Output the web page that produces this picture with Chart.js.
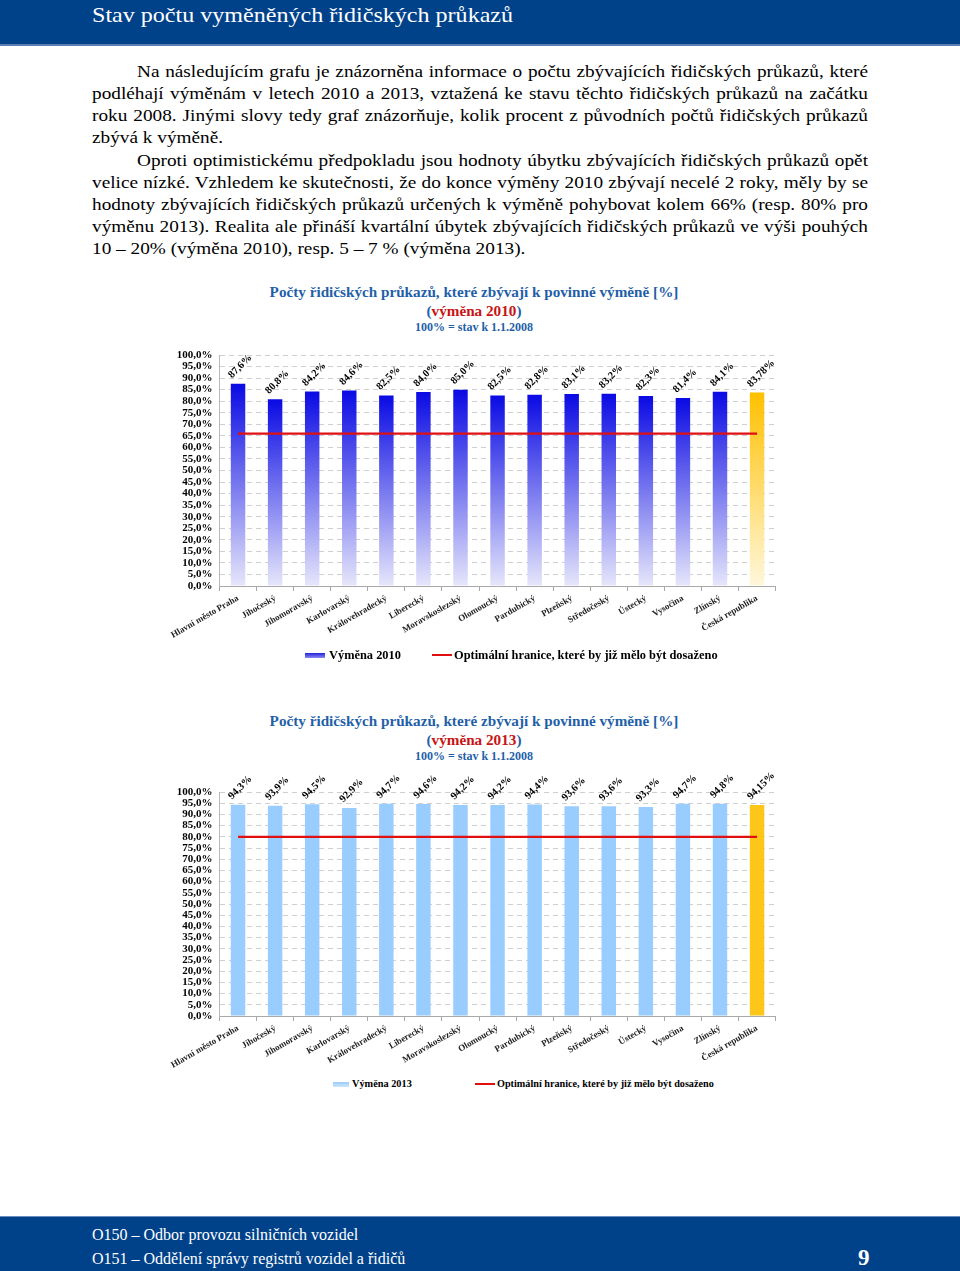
<!DOCTYPE html>
<html lang="cs">
<head>
<meta charset="utf-8">
<script src="https://cdn.jsdelivr.net/npm/chart.js@4.4.0/dist/chart.umd.min.js"></script>
<style>
  html, body { margin:0; padding:0; background:#fff; }
  body { width:960px; height:1271px; position:relative; overflow:hidden; font-family:"Liberation Serif","Times New Roman",serif; }
  #header { position:absolute; left:0; top:0; width:960px; height:44px; background:#00428A; border-bottom:2px solid #5A7DB3; }
  #header h1 { margin:0; position:absolute; left:92px; top:1px; font-size:22px; font-weight:normal; color:#fff; line-height:28px; white-space:nowrap; transform:scaleX(1.094); transform-origin:0 0; }
  .pline { position:absolute; left:92px; width:708.7px; font-size:17.6px; line-height:22px; color:#000; white-space:nowrap; text-align:justify; text-align-last:justify; transform:scaleX(1.095); transform-origin:0 0; }
  .pline.ind { left:137px; width:667.6px; }
  .pline.last { text-align:left; text-align-last:left; }
  .ctitle { position:absolute; left:174px; width:600px; text-align:center; color:#1F5FA8; font-weight:bold; white-space:nowrap; }
  .ctitle .red { color:#C81414; }
  .legend { position:absolute; font-weight:bold; color:#000; white-space:nowrap; }
  .sw { position:absolute; }
  canvas { position:absolute; }
  #footer { position:absolute; left:0; top:1216px; width:960px; height:55px; background:#00428A; border-top:1px solid #6C8CBF; color:#fff; }
  #footer .f { position:absolute; left:92px; font-size:16px; line-height:20px; white-space:nowrap; }
  #footer .pg { position:absolute; left:858px; top:28px; font-size:23px; font-weight:bold; }
</style>
</head>
<body>
<div id="header"><h1>Stav počtu vyměněných řidičských průkazů</h1></div>

<div class="pline ind" style="top:60px">Na následujícím grafu je znázorněna informace o počtu zbývajících řidičských průkazů, které</div>
<div class="pline" style="top:82px">podléhají výměnám v letech 2010 a 2013, vztažená ke stavu těchto řidičských průkazů na začátku</div>
<div class="pline" style="top:104px">roku 2008. Jinými slovy tedy graf znázorňuje, kolik procent z původních počtů řidičských průkazů</div>
<div class="pline last" style="top:126px">zbývá k výměně.</div>
<div class="pline ind" style="top:149px">Oproti optimistickému předpokladu jsou hodnoty úbytku zbývajících řidičských průkazů opět</div>
<div class="pline" style="top:171px">velice nízké. Vzhledem ke skutečnosti, že do konce výměny 2010 zbývají necelé 2 roky, měly by se</div>
<div class="pline" style="top:193px">hodnoty zbývajících řidičských průkazů určených k výměně pohybovat kolem 66% (resp. 80% pro</div>
<div class="pline" style="top:215px">výměnu 2013). Realita ale přináší kvartální úbytek zbývajících řidičských průkazů ve výši pouhých</div>
<div class="pline last" style="top:237px">10 – 20% (výměna 2010), resp. 5 – 7 % (výměna 2013).</div>

<div class="ctitle" style="top:282px;font-size:15.2px;line-height:19px">Počty řidičských průkazů, které zbývají k povinné výměně [%]</div>
<div class="ctitle" style="top:301px;font-size:15.2px;line-height:19px">(<span class="red">výměna 2010</span>)</div>
<div class="ctitle" style="top:320px;font-size:12px;line-height:15px">100% = stav k 1.1.2008</div>
<canvas id="c1" width="630" height="315" style="left:160px;top:335px;width:630px;height:315px"></canvas>
<div class="sw" style="left:305px;top:653px;width:20px;height:5px;background:linear-gradient(#2020E0,#8A8AF0)"></div>
<div class="legend" style="left:329px;top:647px;font-size:12.4px;line-height:16px">Výměna 2010</div>
<div class="sw" style="left:432px;top:654px;width:20px;height:2px;background:#E01010"></div>
<div class="legend" style="left:454px;top:647px;font-size:12.4px;line-height:16px">Optimální hranice, které by již mělo být dosaženo</div>

<div class="ctitle" style="top:711px;font-size:15.2px;line-height:19px">Počty řidičských průkazů, které zbývají k povinné výměně [%]</div>
<div class="ctitle" style="top:730px;font-size:15.2px;line-height:19px">(<span class="red">výměna 2013</span>)</div>
<div class="ctitle" style="top:749px;font-size:12px;line-height:15px">100% = stav k 1.1.2008</div>
<canvas id="c2" width="630" height="315" style="left:160px;top:762px;width:630px;height:315px"></canvas>
<div class="sw" style="left:333px;top:1082px;width:16px;height:5px;background:linear-gradient(#9CCBFA,#CFE5FC)"></div>
<div class="legend" style="left:352px;top:1077px;font-size:10.3px;line-height:14px">Výměna 2013</div>
<div class="sw" style="left:475px;top:1083px;width:20px;height:2px;background:#E01010"></div>
<div class="legend" style="left:497px;top:1077px;font-size:10.2px;line-height:14px">Optimální hranice, které by již mělo být dosaženo</div>

<div id="footer">
  <div class="f" style="top:8px">O150 – Odbor provozu silničních vozidel</div>
  <div class="f" style="top:32px">O151 – Oddělení správy registrů vozidel a řidičů</div>
  <div class="pg">9</div>
</div>

<script>
const categories = ["Hlavní město Praha","Jihočeský","Jihomoravský","Karlovarský","Královehradecký","Liberecký","Moravskoslezský","Olomoucký","Pardubický","Plzeňský","Středočeský","Ústecký","Vysočina","Zlínský","Česká republika"];
const values2010 = [87.6,80.8,84.2,84.6,82.5,84.0,85.0,82.5,82.8,83.1,83.2,82.3,81.4,84.1,83.78];
const labels2010 = ["87,6%","80,8%","84,2%","84,6%","82,5%","84,0%","85,0%","82,5%","82,8%","83,1%","83,2%","82,3%","81,4%","84,1%","83,78%"];
const target2010 = 66;
const values2013 = [94.3,93.9,94.5,92.9,94.7,94.6,94.2,94.2,94.4,93.6,93.6,93.3,94.7,94.8,94.15];
const labels2013 = ["94,3%","93,9%","94,5%","92,9%","94,7%","94,6%","94,2%","94,2%","94,4%","93,6%","93,6%","93,3%","94,7%","94,8%","94,15%"];
const target2013 = 80;
const legend2010 = "Výměna 2010";
const legend2013 = "Výměna 2013";
const legendLine = "Optimální hranice, které by již mělo být dosaženo";

const FONT = '"Liberation Serif","Times New Roman",serif';

const valueLabels = {
  id: 'valueLabels',
  afterDatasetsDraw(chart, args, opts) {
    const meta = chart.getDatasetMeta(0);
    const ctx = chart.ctx;
    ctx.save();
    ctx.font = 'bold 10.5px ' + FONT;
    ctx.fillStyle = '#000';
    ctx.textAlign = 'left';
    ctx.textBaseline = 'middle';
    meta.data.forEach((bar, i) => {
      ctx.save();
      ctx.translate(bar.x - 8, bar.y - 7);
      ctx.rotate(-Math.PI / 4);
      ctx.fillText(opts.labels[i], 0, 0);
      ctx.restore();
    });
    ctx.restore();
  }
};

function gradFill(topCol, botCol, lastTop, lastBot) {
  return (c) => {
    const chart = c.chart;
    const isLast = c.dataIndex === categories.length - 1;
    const t = isLast ? lastTop : topCol;
    const b = isLast ? lastBot : botCol;
    if (c.type !== 'data' || !chart.chartArea) return t;
    const yTop = chart.scales.y.getPixelForValue(c.raw);
    const yBot = chart.scales.y.getPixelForValue(0);
    if (!isFinite(yTop) || !isFinite(yBot) || yBot - yTop < 1) return t;
    const g = chart.ctx.createLinearGradient(0, yTop, 0, yBot);
    g.addColorStop(0, t);
    g.addColorStop(1, b);
    return g;
  };
}

function makeChart(id, values, labels, target, barColor, padTop, xHeight, seriesName) {
  return new Chart(document.getElementById(id), {
    type: 'bar',
    data: {
      labels: categories,
      datasets: [
        {
          type: 'bar',
          label: seriesName,
          data: values,
          backgroundColor: barColor,
          borderWidth: 0,
          categoryPercentage: 1,
          barPercentage: 0.39,
          order: 2
        },
        {
          type: 'line',
          label: legendLine,
          data: categories.map(() => target),
          borderColor: '#E01010',
          borderWidth: 2.2,
          pointRadius: 0,
          fill: false,
          order: 1
        }
      ]
    },
    options: {
      responsive: false,
      animation: false,
      layout: { padding: { top: padTop, right: 14.4, left: 0, bottom: 0 } },
      plugins: {
        legend: { display: false },
        tooltip: { enabled: false },
        valueLabels: { labels: labels }
      },
      scales: {
        x: {
          afterFit(s) { s.height = xHeight; s.paddingLeft = 0; s.paddingRight = 0; },
          grid: { drawOnChartArea: false, drawTicks: true, tickLength: 5, color: '#A8A8A8', offset: true },
          border: { display: true, color: '#A8A8A8' },
          ticks: {
            autoSkip: false, minRotation: 30, maxRotation: 30, padding: 2,
            color: '#222', font: { family: FONT, size: 9, weight: 'bold' }
          }
        },
        y: {
          min: 0, max: 100,
          afterFit(s) { s.width = 59.5; },
          grid: { drawTicks: false, color: '#CFCFCF', lineWidth: 1 },
          border: { display: true, color: '#B8B8B8', dash: [5, 4] },
          ticks: {
            stepSize: 5, autoSkip: false, padding: 7, color: '#000',
            font: { family: FONT, size: 11, weight: 'bold' },
            callback: (v) => v.toFixed(1).replace('.', ',') + '%'
          }
        }
      }
    },
    plugins: [valueLabels]
  });
}

makeChart('c1', values2010, labels2010, target2010,
  gradFill('#0A0AE4', '#E6E6FB', '#FFC000', '#FFF7DC'), 20, 64, legend2010);
makeChart('c2', values2013, labels2013, target2013,
  (c) => c.dataIndex === categories.length - 1 ? '#FFC61A' : '#99CCFF', 30, 61, legend2013);
</script>
</body>
</html>
